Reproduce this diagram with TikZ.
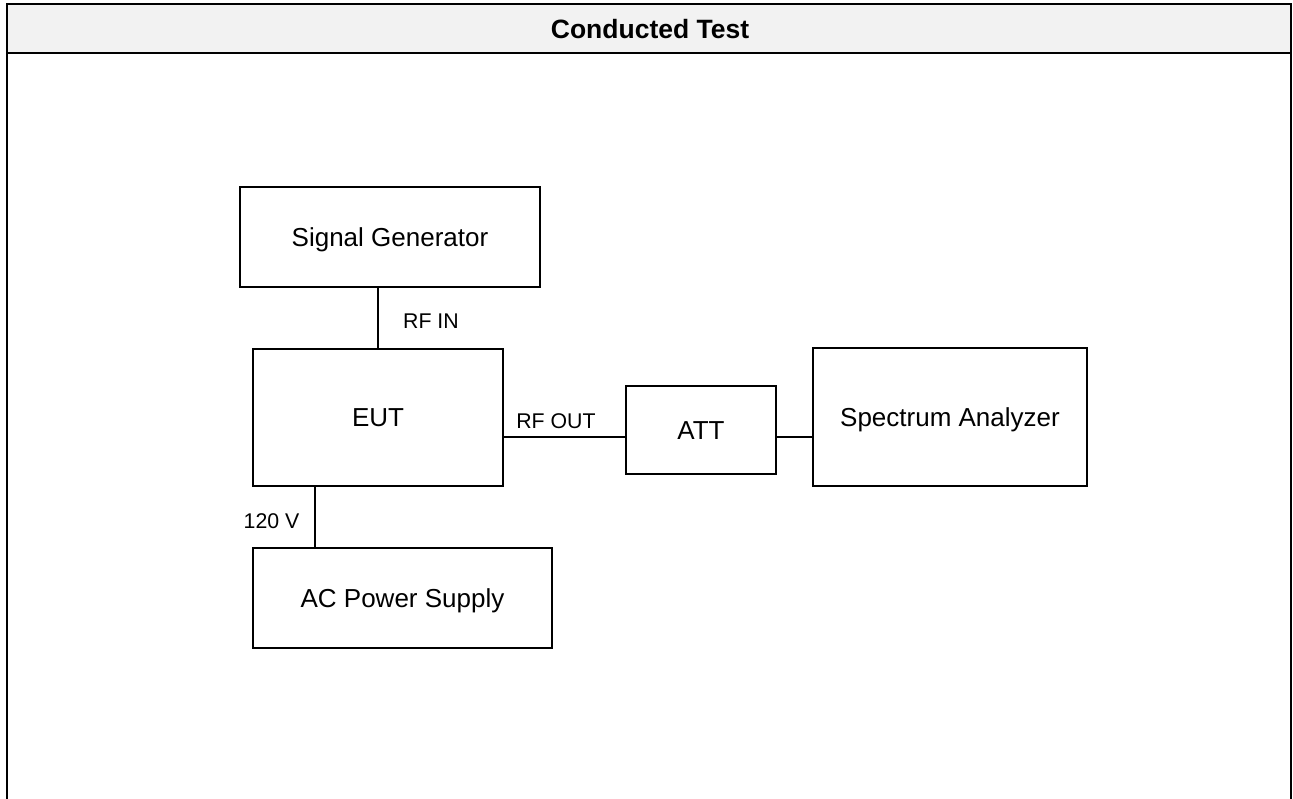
\documentclass[tikz,border=0pt]{standalone}
\usepackage{fontspec}
\setmainfont{Liberation Sans}
\usetikzlibrary{calc}
\definecolor{hdr}{HTML}{F2F2F2}
\begin{document}
\begin{tikzpicture}[x=1pt,y=-1pt,
  box/.style={draw,line width=1.4pt,font=\fontsize{26}{31}\selectfont,
    text height=18.6pt,text depth=0pt,inner sep=0pt},
  lbl/.style={font=\fontsize{21.3}{25}\selectfont,inner sep=0pt,
    text height=15.2pt,text depth=0pt},
  wire/.style={line width=1.4pt},
  frame/.style={line width=1.6pt}]
\useasboundingbox (0,0) rectangle (1293,799);
% header
\fill[hdr] (7,4) rectangle (1291,53);
\draw[frame] (7,805) -- (7,4) -- (1291,4) -- (1291,805);
\draw[frame] (7,53) -- (1291,53);
\node[font=\bfseries\fontsize{26.5}{31}\selectfont,inner sep=0pt,text height=19pt,text depth=0pt] (title) at (650,29) {Conducted Test};
% boxes
\node[box,minimum width=300pt,minimum height=100pt] (sg) at (390,237) {Signal Generator};
\node[box,minimum width=250pt,minimum height=137pt] (eut) at (378,417.5) {EUT};
\node[box,minimum width=299pt,minimum height=100pt] (acps) at (402.5,598) {AC Power Supply};
\node[box,minimum width=150pt,minimum height=88pt] (att) at (701,430) {ATT};
\node[box,minimum width=274pt,minimum height=138pt] (sa) at (950,417) {Spectrum Analyzer};
% connectors
\coordinate (rfy) at (0,437);
\coordinate (pwr) at ($(eut.south west)!0.25!(eut.south east)$);
\draw[wire] (eut.north) -- (eut.north |- sg.south);
\draw[wire] (pwr) -- (pwr |- acps.north);
\draw[wire] (eut.east |- rfy) -- (att.west |- rfy);
\draw[wire] (att.east |- rfy) -- (sa.west |- rfy);
% labels
\node[lbl] (rfin) at (431,321) {RF IN};
\node[lbl] (rfout) at (556,420.5) {RF OUT};
\node[lbl] (v120) at (271.5,521) {120 V};
\end{tikzpicture}
\end{document}
